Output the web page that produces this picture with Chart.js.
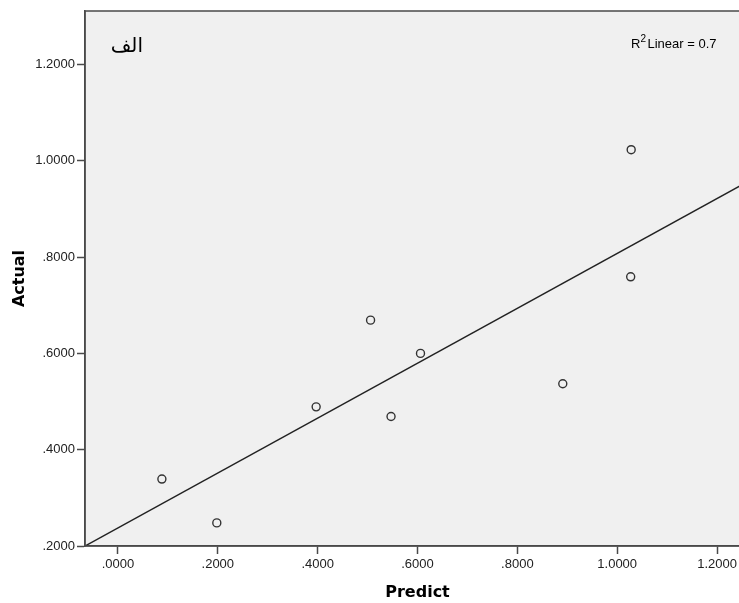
<!DOCTYPE html>
<html>
<head>
<meta charset="utf-8">
<script src="https://cdn.jsdelivr.net/npm/chart.js@4.4.0/dist/chart.umd.min.js"></script>
<style>
html,body{margin:0;padding:0;background:#fff;overflow:hidden;}
#wrap{width:739px;height:603px;overflow:hidden;}
</style>
</head>
<body>
<div id="wrap"><canvas id="c" width="750" height="603"></canvas></div>
<script>
// Data
const predict = [0.088, 0.198, 0.397, 0.506, 0.547, 0.606, 0.891, 1.027, 1.028];
const actual  = [0.339, 0.248, 0.489, 0.669, 0.469, 0.600, 0.537, 0.759, 1.023];
// fit line end points
const fitX = [-0.066, 1.266];
const fitY = [0.200, 0.959];
const xTicks = [0, 0.2, 0.4, 0.6, 0.8, 1.0, 1.2];
const yTicks = [0.2, 0.4, 0.6, 0.8, 1.0, 1.2];
const xTickLabels = ['.0000', '.2000', '.4000', '.6000', '.8000', '1.0000', '1.2000'];
const yTickLabels = ['.2000', '.4000', '.6000', '.8000', '1.0000', '1.2000'];
const xTitle = 'Predict';
const yTitle = 'Actual';
const panelLabel = 'الف';
const r2Text = 'Linear = 0.7';

const axisColor = '#4a4a4a';

const bgPlugin = {
  id: 'bg',
  beforeDraw(chart) {
    const {ctx, chartArea: a} = chart;
    ctx.save();
    ctx.fillStyle = '#f0f0f0';
    ctx.fillRect(a.left, a.top, a.right - a.left, a.bottom - a.top);
    ctx.restore();
  },
  afterDraw(chart) {
    const {ctx, chartArea: a} = chart;
    ctx.save();
    ctx.strokeStyle = axisColor;
    ctx.lineWidth = 1.5;
    ctx.strokeRect(a.left, a.top, a.right - a.left, a.bottom - a.top);
    // panel label
    ctx.fillStyle = '#000';
    ctx.font = '20px "DejaVu Sans"';
    ctx.textBaseline = 'middle';
    ctx.direction = 'rtl';
    ctx.textAlign = 'right';
    ctx.fillText(panelLabel, a.left + 58, a.top + 36);
    ctx.direction = 'ltr';
    // R2 text
    ctx.textAlign = 'left';
    ctx.font = '13px "Liberation Sans"';
    const x0 = a.left + 546;
    ctx.fillText('R', x0, a.top + 33);
    const wR = ctx.measureText('R').width;
    ctx.font = '10px "Liberation Sans"';
    ctx.fillText('2', x0 + wR, a.top + 28);
    const w2 = ctx.measureText('2').width;
    ctx.font = '13px "Liberation Sans"';
    ctx.fillText(r2Text, x0 + wR + w2 + 1.5, a.top + 33);
    ctx.restore();
  }
};

new Chart(document.getElementById('c'), {
  type: 'scatter',
  data: {
    datasets: [
      {
        label: 'points',
        data: predict.map((x, i) => ({x, y: actual[i]})),
        pointStyle: 'circle',
        pointRadius: 4,
        pointHoverRadius: 4,
        borderColor: '#333',
        borderWidth: 1.4,
        backgroundColor: 'rgba(0,0,0,0)'
      },
      {
        label: 'fit',
        type: 'line',
        data: fitX.map((x, i) => ({x, y: fitY[i]})),
        borderColor: '#222',
        borderWidth: 1.5,
        pointRadius: 0,
        fill: false
      }
    ]
  },
  options: {
    responsive: false,
    animation: false,
    events: [],
    layout: {autoPadding: false, padding: {top: 11, right: 0, left: 0, bottom: 0}},
    plugins: {legend: {display: false}, tooltip: {enabled: false}},
    scales: {
      x: {
        type: 'linear',
        min: fitX[0],
        max: fitX[1],
        afterBuildTicks(s) { s.ticks = xTicks.map(v => ({value: v})); },
        afterFit(s) { s.height = 57; s.paddingRight = 0; s.paddingLeft = 0; },
        grid: {drawOnChartArea: false, drawTicks: true, tickLength: 8, tickColor: axisColor, tickWidth: 1.5},
        border: {display: true, color: axisColor, width: 1.5},
        ticks: {
          autoSkip: false, maxRotation: 0, padding: 3,
          color: '#222',
          font: {family: 'Liberation Sans', size: 13},
          callback(v) { const i = xTicks.findIndex(t => Math.abs(t - v) < 1e-9); return i >= 0 ? xTickLabels[i] : ''; }
        },
        title: {display: true, text: xTitle, color: '#000', font: {family: 'DejaVu Sans', size: 16, weight: 'bold'}, padding: {top: 0, bottom: 1}}
      },
      y: {
        type: 'linear',
        min: fitY[0],
        max: 1.311,
        afterBuildTicks(s) { s.ticks = yTicks.map(v => ({value: v})); },
        afterFit(s) { s.width = 85; s.paddingTop = 0; s.paddingBottom = 0; },
        grid: {drawOnChartArea: false, drawTicks: true, tickLength: 8, tickColor: axisColor, tickWidth: 1.5},
        border: {display: true, color: axisColor, width: 1.5},
        ticks: {
          autoSkip: false, padding: 2,
          color: '#222',
          font: {family: 'Liberation Sans', size: 13},
          callback(v) { const i = yTicks.findIndex(t => Math.abs(t - v) < 1e-9); return i >= 0 ? yTickLabels[i] : ''; }
        },
        title: {display: true, text: yTitle, color: '#000', font: {family: 'DejaVu Sans', size: 16, weight: 'bold'}, padding: {top: 10, bottom: 0}}
      }
    }
  },
  plugins: [bgPlugin]
});
</script>
</body>
</html>
